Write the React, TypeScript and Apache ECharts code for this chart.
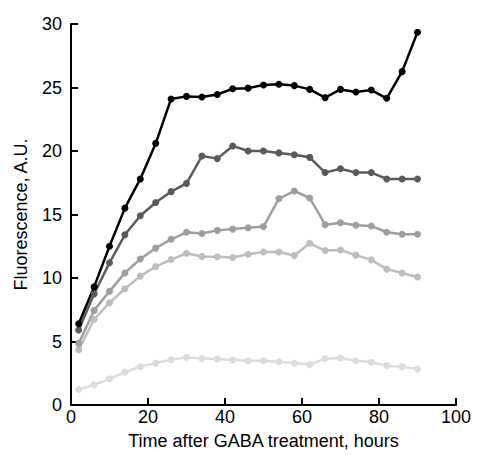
import React, { useEffect, useRef } from "react";
import * as echarts from "echarts";

const hours = [2, 6, 10, 14, 18, 22, 26, 30, 34, 38, 42, 46, 50, 54, 58, 62, 66, 70, 74, 78, 82, 86, 90];

const seriesBlack = [6.4, 9.3, 12.5, 15.5, 17.8, 20.6, 24.1, 24.3, 24.25, 24.45, 24.9, 24.95, 25.2, 25.25, 25.15, 24.85, 24.2, 24.85, 24.65, 24.8, 24.15, 26.25, 29.35];
const seriesDark = [5.9, 8.75, 11.2, 13.4, 14.9, 15.95, 16.8, 17.45, 19.6, 19.4, 20.4, 20.0, 20.0, 19.85, 19.7, 19.5, 18.3, 18.6, 18.3, 18.3, 17.8, 17.8, 17.8];
const seriesMid = [4.85, 7.45, 8.95, 10.4, 11.5, 12.35, 13.05, 13.6, 13.5, 13.75, 13.85, 13.95, 14.05, 16.25, 16.85, 16.3, 14.2, 14.35, 14.15, 14.1, 13.6, 13.45, 13.45];
const seriesLight = [4.35, 6.75, 8.05, 9.15, 10.15, 10.9, 11.45, 11.95, 11.7, 11.67, 11.62, 11.87, 12.05, 12.04, 11.77, 12.73, 12.16, 12.2, 11.8, 11.43, 10.7, 10.39, 10.08];
const seriesFaint = [1.22, 1.59, 2.06, 2.58, 3.02, 3.3, 3.57, 3.75, 3.67, 3.63, 3.54, 3.49, 3.49, 3.41, 3.28, 3.18, 3.65, 3.7, 3.49, 3.36, 3.1, 3.02, 2.84];

const xTicks = [0, 20, 40, 60, 80, 100];
const yTicks = [0, 5, 10, 15, 20, 25, 30];

const seriesList = [
  { name: "s5", data: seriesFaint, color: "#dcdcdc" },
  { name: "s4", data: seriesLight, color: "#bdbdbd" },
  { name: "s3", data: seriesMid, color: "#9e9e9e" },
  { name: "s2", data: seriesDark, color: "#5a5a5a" },
  { name: "s1", data: seriesBlack, color: "#000000" },
];

export default function App() {
  const ref = useRef<HTMLDivElement>(null);
  useEffect(() => {
    if (!ref.current) return;
    const chart = echarts.init(ref.current, null, { renderer: "svg" });
    const font = "Liberation Sans, Arial, sans-serif";
    chart.setOption({
      animation: false,
      backgroundColor: "#ffffff",
      grid: { left: 71, right: 21, top: 24, bottom: 47, containLabel: false },
      xAxis: {
        type: "value",
        min: xTicks[0],
        max: xTicks[xTicks.length - 1],
        interval: 20,
        name: "Time after GABA treatment, hours",
        nameLocation: "middle",
        nameGap: 27,
        nameTextStyle: { fontFamily: font, fontSize: 18, color: "#000" },
        axisLine: { lineStyle: { color: "#000", width: 2 } },
        axisTick: { inside: true, length: 7, lineStyle: { color: "#000", width: 2 } },
        axisLabel: { fontFamily: font, fontSize: 18, color: "#000", margin: 3 },
        splitLine: { show: false },
      },
      yAxis: {
        type: "value",
        min: yTicks[0],
        max: yTicks[yTicks.length - 1],
        interval: 5,
        name: "Fluorescence, A.U.",
        nameLocation: "middle",
        nameGap: 41,
        nameTextStyle: { fontFamily: font, fontSize: 18, color: "#000" },
        axisLine: { show: true, lineStyle: { color: "#000", width: 2 } },
        axisTick: { show: true, inside: true, length: 7, lineStyle: { color: "#000", width: 2 } },
        axisLabel: { fontFamily: font, fontSize: 18, color: "#000", margin: 9 },
        splitLine: { show: false },
      },
      series: seriesList.map((s) => ({
        name: s.name,
        type: "line",
        data: hours.map((h, i) => [h, s.data[i]]),
        symbol: "circle",
        symbolSize: 7,
        showSymbol: true,
        lineStyle: { color: s.color, width: 2.5 },
        itemStyle: { color: s.color },
      })),
    });
    return () => chart.dispose();
  }, []);
  return (
    <div
      ref={ref}
      style={{ position: "absolute", left: 0, top: 0, width: 477, height: 455 }}
    />
  );
}
